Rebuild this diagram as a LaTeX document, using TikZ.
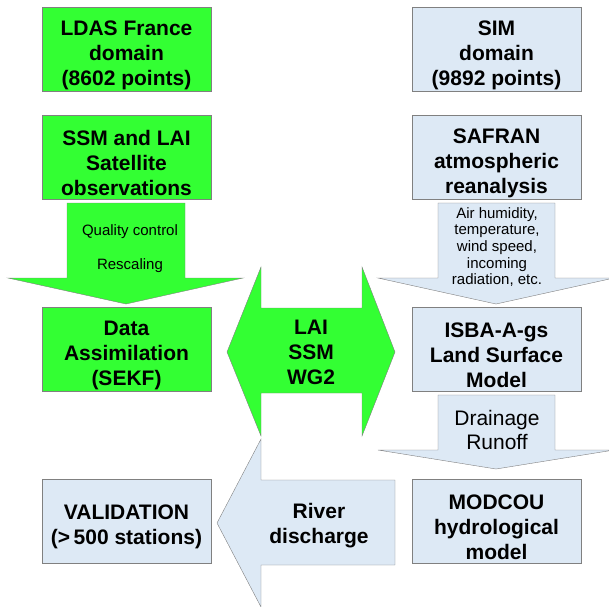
\documentclass[tikz,border=0pt]{standalone}
\usepackage{fontspec}
\setmainfont{Liberation Sans}
\definecolor{boxgreen}{RGB}{51,255,51}
\definecolor{boxblue}{RGB}{221,233,245}
\definecolor{edgegray}{RGB}{128,128,128}
\begin{document}
\begin{tikzpicture}[x=1pt, y=-1pt,
    box/.style={draw=edgegray, minimum width=169pt, minimum height=84pt, inner sep=0pt,
      align=center, font=\fontsize{21}{25}\selectfont\bfseries, text height=77pt},
    greenbox/.style={box, fill=boxgreen},
    bluebox/.style={box, fill=boxblue},
    flow/.style={draw=edgegray, line join=miter},
    bigtext/.style={align=center, font=\fontsize{21}{25}\selectfont\bfseries},
    smalltext/.style={align=center, font=\fontsize{15}{16.7}\selectfont}]
    \useasboundingbox (0,0) rectangle (609,606);
    \clip (0,0) rectangle (609,606);
    % Block arrows
    \draw[flow, fill=boxgreen] (67,203) -- (185,203) -- (185,278) -- (243,278) -- (126,304)
        -- (8,278) -- (67,278) -- cycle;
    \draw[flow, fill=boxblue] (438,203) -- (555,203) -- (555,278) -- (614,278) -- (496,304)
        -- (378,278) -- (438,278) -- cycle;
    \draw[flow, fill=boxgreen] (227,352) -- (261,267) -- (261,308) -- (362,308) -- (362,267)
        -- (395,352) -- (362,436) -- (362,393) -- (261,393) -- (261,436) -- cycle;
    \draw[flow, fill=boxblue] (438,395) -- (555,395) -- (555,450) -- (614,450) -- (496,469)
        -- (378,450) -- (438,450) -- cycle;
    \draw[flow, fill=boxblue] (217,523) -- (261,439) -- (261,480) -- (395,480) -- (395,565)
        -- (261,565) -- (261,607) -- cycle;
    % Left column
    \node[greenbox] (ldas) at (126.5,49) {LDAS France\\domain\\(8602 points)};
    \node[greenbox] (sat) at (126.5,157.5) {SSM and LAI\\Satellite\\observations};
    \node[greenbox] (da) at (126.5,349) {Data\\Assimilation\\(SEKF)};
    \node[bluebox, text height=52pt] (valid) at (126.5,521) {VALIDATION\\(>\,500 stations)};
    % Right column
    \node[bluebox] (sim) at (496.5,49) {SIM\\domain\\(9892 points)};
    \node[bluebox] (safran) at (496.5,157.5) {SAFRAN\\atmospheric\\reanalysis};
    \node[bluebox] (isba) at (496.5,349) {ISBA-A-gs\\Land Surface\\Model};
    \node[bluebox] (modcou) at (496.5,521) {MODCOU\\hydrological\\model};
    % Arrow labels
    \node[smalltext, font=\fontsize{15}{17}\selectfont] (qc) at (130,249) {Quality control\\[17pt]Rescaling};
    \node[smalltext] (forcing) at (497,247) {Air humidity,\\temperature,\\wind speed,\\incoming\\radiation, etc.};
    \node[bigtext] (vars) at (311,352) {LAI\\SSM\\WG2};
    \node[smalltext, font=\fontsize{21}{24}\selectfont] (drain) at (497,430) {Drainage\\Runoff};
    \node[bigtext] (river) at (319,525.5) {River\\discharge};
\end{tikzpicture}
\end{document}
